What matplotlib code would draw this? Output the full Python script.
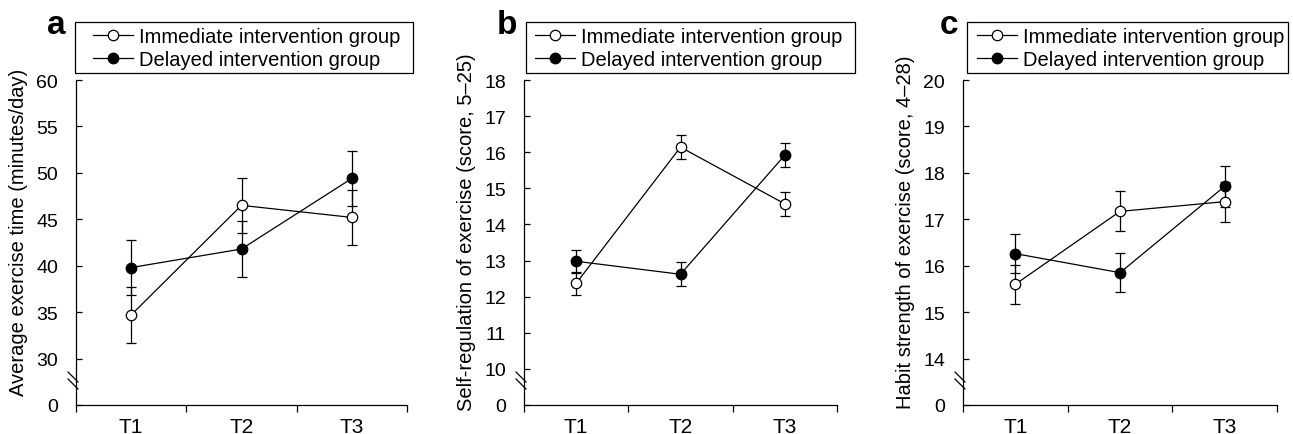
import numpy as np
import matplotlib.pyplot as plt
from matplotlib.lines import Line2D
from matplotlib.patches import Rectangle

plt.rcParams['font.family'] = ['Liberation Sans', 'DejaVu Sans']

# ---- data ----
times = ['T1', 'T2', 'T3']
group_names = ['Immediate intervention group', 'Delayed intervention group']

exercise_imm = [34.7, 46.5, 45.2]
exercise_imm_err = [3.0, 3.0, 3.0]
exercise_del = [39.8, 41.8, 49.4]
exercise_del_err = [3.0, 3.0, 3.0]

selfreg_imm = [12.37, 16.14, 14.57]
selfreg_imm_err = [0.31, 0.33, 0.33]
selfreg_del = [12.98, 12.62, 15.92]
selfreg_del_err = [0.32, 0.33, 0.34]

habit_imm = [15.60, 17.17, 17.38]
habit_imm_err = [0.42, 0.43, 0.43]
habit_del = [16.26, 15.85, 17.71]
habit_del_err = [0.42, 0.42, 0.44]

ylabels = ['Average exercise time (minutes/day)',
           'Self-regulation of exercise (score, 5\u201325)',
           'Habit strength of exercise (score, 4\u201328)']
panel_letters = ['a', 'b', 'c']
yticks_list = [[30, 35, 40, 45, 50, 55, 60],
               [10, 11, 12, 13, 14, 15, 16, 17, 18],
               [14, 15, 16, 17, 18, 19, 20]]
ybottom = [25, 9, 13]   # where the broken axis shows "0"

W, H = 1293, 435
fig = plt.figure(figsize=(W / 100, H / 100), dpi=100)


def px(x, y):
    return x / W, 1 - y / H


axes_left = [76, 524, 963]
axes_right = [407, 837, 1277]
ax_top, ax_bot = 81, 406
letter_x = [47, 497, 940]
legend_left = [75, 526, 967]
handle_left = [93, 535, 977]

panels = [(exercise_imm, exercise_imm_err, exercise_del, exercise_del_err),
          (selfreg_imm, selfreg_imm_err, selfreg_del, selfreg_del_err),
          (habit_imm, habit_imm_err, habit_del, habit_del_err)]

x = np.arange(len(times)) + 0.5
fs = 14

for i, (imm, imm_e, dl, dl_e) in enumerate(panels):
    l, r = axes_left[i], axes_right[i]
    axw = r - l
    axh = ax_bot - ax_top
    ax = fig.add_axes([l / W, 1 - ax_bot / H, axw / W, axh / H])

    ax.errorbar(x, dl, yerr=dl_e, fmt='-o', color='black', lw=0.9,
                elinewidth=0.9, capsize=3.5, capthick=0.9, ms=7.5,
                mfc='black', mec='black', zorder=3)
    ax.errorbar(x, imm, yerr=imm_e, fmt='-o', color='black', lw=0.9,
                elinewidth=0.9, capsize=3.5, capthick=0.9, ms=7.5,
                mfc='white', mec='black', mew=0.9, zorder=4)

    yt = yticks_list[i]
    ax.set_ylim(ybottom[i], yt[-1])
    ax.set_yticks([ybottom[i]] + yt)
    ax.set_yticklabels(['0'] + [str(v) for v in yt], fontsize=fs)
    ax.tick_params(axis='y', direction='in', length=4.5, width=0.9, pad=13)

    ax.set_xlim(0, len(times))
    ax.set_xticks(x)
    ax.set_xticklabels(times, fontsize=15)
    ax.set_xticks(np.arange(len(times) + 1), minor=True)
    ax.tick_params(axis='x', which='major', length=0, pad=9)
    ax.tick_params(axis='x', which='minor', direction='out', length=5, width=0.9)

    for s in ['top', 'right']:
        ax.spines[s].set_visible(False)
    for s in ['left', 'bottom']:
        ax.spines[s].set_linewidth(0.9)

    ax.set_ylabel(ylabels[i], fontsize=14.5)
    ax.yaxis.set_label_coords(-48 / axw, (ax_bot - 232) / axh)

    # axis break marks
    for yc in (373, 380):
        x0, x1 = -8 / axw, 2 / axw
        y0, y1 = (ax_bot - yc) / axh, (ax_bot - yc - 10) / axh
        ax.plot([x0, x1], [y0, y1], color='black', lw=0.9,
                transform=ax.transAxes, clip_on=False)

    # panel letter
    fig.text(*px(letter_x[i], 34), panel_letters[i], fontsize=24,
             fontweight='bold', ha='left', va='baseline')

    # legend with a square frame drawn by hand
    handles = [Line2D([], [], color='black', lw=0.9, marker='o', ms=7.5,
                      mfc='white', mec='black', mew=0.9),
               Line2D([], [], color='black', lw=0.9, marker='o', ms=7.5,
                      mfc='black', mec='black')]
    leg = fig.legend(handles, group_names, loc='center left',
                     bbox_to_anchor=px(handle_left[i], 49), frameon=False,
                     borderpad=0, borderaxespad=0, handlelength=2.0,
                     handletextpad=0.3, labelspacing=0.2, fontsize=14.5)
    fig.canvas.draw()
    bb = leg.get_window_extent()
    right_px = min(bb.x1 + 12, W - 5)
    fl = legend_left[i]
    fig.patches.append(Rectangle(px(fl, 74), (right_px - fl) / W, 51 / H,
                                 transform=fig.transFigure, fill=False,
                                 edgecolor='black', lw=0.9))

fig.savefig('out.png', dpi=100)
